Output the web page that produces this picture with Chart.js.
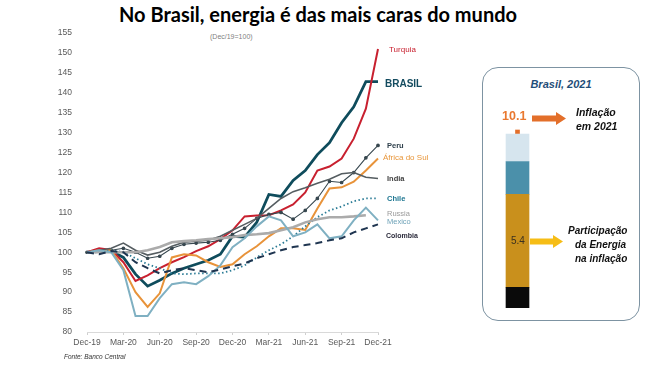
<!DOCTYPE html>
<html>
<head>
<meta charset="utf-8">
<script src="https://cdn.jsdelivr.net/npm/chart.js@4.4.1/dist/chart.umd.min.js"></script>
<style>
  body{margin:0;width:650px;height:365px;background:#fff;position:relative;overflow:hidden;font-family:"Liberation Sans",Arial,sans-serif}
  .t{position:absolute;line-height:1;white-space:nowrap;transform:translateY(-50%)}
  #panel{position:absolute;left:482px;top:67px;width:158px;height:254px;border:1.5px solid #7d93a2;border-radius:16px;box-sizing:border-box}
</style>
</head>
<body>
<script>
// ---------- data ----------
const months = ['Dec-19','Jan-20','Feb-20','Mar-20','Apr-20','May-20','Jun-20','Jul-20','Aug-20','Sep-20','Oct-20','Nov-20','Dec-20','Jan-21','Feb-21','Mar-21','Apr-21','May-21','Jun-21','Jul-21','Aug-21','Sep-21','Oct-21','Nov-21','Dec-21'];
const xTickLabels = ['Dec-19','Mar-20','Jun-20','Sep-20','Dec-20','Mar-21','Jun-21','Sep-21','Dec-21'];
const yTicks = [80,85,90,95,100,105,110,115,120,125,130,135,140,145,150,155];

const turquia  = [100,101,100.6,97.5,92.8,94.2,96,97.5,98.8,100.3,101.5,103.3,105.5,109,109.2,109.3,110.5,112,115,120.5,121.5,123.5,128.5,136,151];
const brasil   = [100,100.5,100.3,98.7,94.5,91.5,93,94.7,96,97,98,99.5,104,103.8,107.5,114.5,114,118,120.5,124.5,127.5,132.5,136.5,142.8,142.8];
const peru     = [100,100.3,100.5,101,100,98.5,99,101,102,102.3,102.5,103,104.5,106,108.5,109.5,110,108.3,110.5,113.5,117.8,117.5,120,123.7,126.8];
const africa   = [100,100.5,100.5,96,90,86.3,89.7,98.7,99.5,99.2,97.5,96.3,97,99.5,101.5,104,106,106,105.6,111,116,116.3,117.7,120.5,123.5];
const india    = [100,100.5,101,102.3,100.5,99.3,100,101.5,102.5,102.8,103,104,105.5,107,108.5,111,113.5,115.2,116.2,117.3,118.3,119.7,120,118.8,118.5];
const chile    = [100,100,100.5,100,98.5,97,96,94.7,94.5,94.7,94.7,94.7,95.5,96.7,98.7,100.5,102,104,106.5,108.8,110.5,111.5,112.8,113.5,113.5];
const russia   = [100,100,100,100,100,100.5,101.3,102.5,102.8,103,103.3,103.5,103.8,104.3,104.5,104.8,105.5,106.3,107.5,108.3,108.8,108.8,109,109.3,null];
const mexico   = [100,100.5,100,95.5,84,84,88.5,92,92.5,92,94,96.7,101.3,103.5,106.5,109,108,104,105,107,103.5,104,108,111.2,108];
const colombia = [100,99.5,100.3,100,97.5,96,94.7,95.5,96,95.5,95,95.7,96.5,97.2,98.5,99.5,100.5,101.3,101.8,102.3,103,103.5,105,106,107];

const panelCategories = ['Brasil, 2021'];
const inflation2021 = 10.1;
const energyShare = 5.4;
const stackParts = { outros: 1.2, energia: 5.4, servicos: 1.9, demais: 1.6 };
</script>

<div class="t" style="left:0;width:636px;top:14px;text-align:center;font-family:Lato,sans-serif;font-weight:bold;font-size:20px;color:#000">No Brasil, energia é das mais caras do mundo</div>
<div class="t" style="left:210px;top:36px;font-size:7px;color:#7f7f7f">(Dec/19=100)</div>

<canvas id="main" width="470" height="365" style="position:absolute;left:0;top:0"></canvas>

<div class="t" style="left:389px;top:50px;font-size:8px;color:#c8202f">Turquia</div>
<div class="t" style="left:385px;top:84px;font-size:10px;font-weight:bold;color:#134b5f">BRASIL</div>
<div class="t" style="left:387px;top:146px;font-size:7.5px;font-weight:bold;color:#2d3e4a">Peru</div>
<div class="t" style="left:383px;top:158px;font-size:8px;color:#e8963a">África do Sul</div>
<div class="t" style="left:387px;top:179px;font-size:7.5px;font-weight:bold;color:#404040">India</div>
<div class="t" style="left:387px;top:199px;font-size:7.5px;font-weight:bold;color:#1c7590">Chile</div>
<div class="t" style="left:387px;top:214px;font-size:7.5px;color:#9a9a9a">Russia</div>
<div class="t" style="left:387px;top:222px;font-size:7.5px;color:#6fa3b8">Mexico</div>
<div class="t" style="left:386px;top:235px;font-size:7px;font-weight:bold;color:#2b2b3b">Colombia</div>
<div class="t" style="left:64px;top:357px;font-size:6.5px;font-style:italic;color:#333">Fonte: Banco Central</div>

<div id="panel"></div>
<canvas id="bar" width="45" height="197" style="position:absolute;left:495px;top:118px"></canvas>
<div class="t" style="left:482px;width:158px;text-align:center;top:84px;font-size:11px;font-weight:bold;font-style:italic;color:#1f4e79">Brasil, 2021</div>
<div class="t" style="left:502px;top:116px;font-size:12.5px;font-weight:bold;color:#e9782f">10.1</div>
<svg style="position:absolute;left:532px;top:111px" width="36" height="15"><polygon points="0,4.5 24,4.5 24,1 34,7.5 24,14 24,10.5 0,10.5" fill="#e36f2a"/></svg>
<div class="t" style="left:576px;top:112px;font-size:10.5px;font-weight:bold;font-style:italic;color:#111">Inflação</div>
<div class="t" style="left:576px;top:126px;font-size:10.5px;font-weight:bold;font-style:italic;color:#111">em 2021</div>
<div class="t" style="left:511px;top:241px;font-size:10px;color:#3a3020">5.4</div>
<svg style="position:absolute;left:530px;top:234px" width="36" height="15"><polygon points="0,4.5 23,4.5 23,1 33,7.5 23,14 23,10.5 0,10.5" fill="#f6bd16"/></svg>
<div class="t" style="left:568px;top:231px;font-size:10px;font-weight:bold;font-style:italic;color:#111">Participação</div>
<div class="t" style="left:575px;top:245px;font-size:10px;font-weight:bold;font-style:italic;color:#111">da Energia</div>
<div class="t" style="left:575px;top:259px;font-size:10px;font-weight:bold;font-style:italic;color:#111">na inflação</div>

<script>
const mk = (label, data, color, width, extra) => Object.assign({
  label, data, borderColor: color, backgroundColor: color, borderWidth: width,
  pointRadius: 0, tension: 0, spanGaps: false, fill: false
}, extra || {});

new Chart(document.getElementById('main'), {
  type: 'line',
  data: {
    labels: months,
    datasets: [
      mk('Colombia', colombia, '#1f3550', 2, {borderDash: [7, 5]}),
      mk('Mexico', mexico, '#7fb0c2', 2),
      mk('Russia', russia, '#ababab', 2.6),
      mk('Chile', chile, '#2b7c96', 1.8, {borderDash: [1.5, 2.5]}),
      mk('India', india, '#555d61', 1.6),
      mk('África do Sul', africa, '#e8933a', 2),
      mk('Peru', peru, '#37474f', 1.1, {pointRadius: 1.3}),
      mk('Turquia', turquia, '#c8202f', 2),
      mk('BRASIL', brasil, '#0f4c5c', 2.8)
    ]
  },
  options: {
    responsive: false,
    animation: false,
    devicePixelRatio: 1,
    layout: {padding: {top: 33, right: 92, bottom: 0, left: 0}},
    plugins: {legend: {display: false}, tooltip: {enabled: false}},
    scales: {
      x: {
        offset: false,
        afterFit: s => { s.height = 33; },
        grid: {
          drawOnChartArea: false, drawTicks: true, tickLength: 3,
          color: ctx => (ctx.index % 3 === 0 ? '#cfcfcf' : 'rgba(0,0,0,0)')
        },
        border: {display: true, color: '#d9d9d9', width: 1},
        ticks: {
          autoSkip: false, maxRotation: 0, padding: 3, color: '#595959',
          font: {family: 'Liberation Sans', size: 8.5},
          callback: (v, i) => (i % 3 === 0 ? xTickLabels[i / 3] : '')
        }
      },
      y: {
        min: 80, max: 155,
        afterFit: s => { s.width = 87; },
        afterBuildTicks: s => { s.ticks = yTicks.map(v => ({value: v})); },
        grid: {display: false, drawTicks: false},
        border: {display: false},
        ticks: {padding: 15, color: '#595959', font: {family: 'Liberation Sans', size: 8.5}}
      }
    }
  }
});

new Chart(document.getElementById('bar'), {
  type: 'bar',
  data: {
    labels: panelCategories,
    datasets: [
      {data: [stackParts.outros], backgroundColor: '#0a0a0a', barThickness: 23, stack: 's'},
      {data: [stackParts.energia], backgroundColor: '#c9901c', barThickness: 23, stack: 's'},
      {data: [stackParts.servicos], backgroundColor: '#4b90aa', barThickness: 23, stack: 's'},
      {data: [stackParts.demais], backgroundColor: '#d6e5ee', barThickness: 23, stack: 's'},
      {type: 'line', data: [inflation2021 + 0.12], showLine: false, pointStyle: 'rect', pointRadius: 3.3,
       backgroundColor: '#e36f2a', borderColor: '#e36f2a', borderWidth: 0}
    ]
  },
  options: {
    responsive: false, animation: false, devicePixelRatio: 1,
    layout: {padding: {top: 0, bottom: 7, left: 0, right: 0}},
    plugins: {legend: {display: false}, tooltip: {enabled: false}},
    scales: {
      x: {display: false, stacked: true},
      y: {display: false, stacked: true, min: 0, max: 10.8}
    }
  }
});
</script>
</body>
</html>
